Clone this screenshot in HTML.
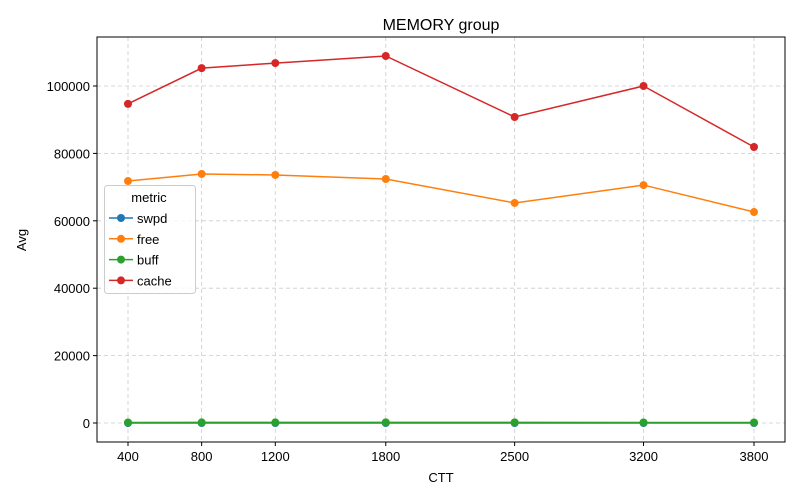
<!DOCTYPE html>
<html><head><meta charset="utf-8"><style>
html,body{margin:0;padding:0;background:#fff;}
svg{display:block;font-family:"Liberation Sans","DejaVu Sans",sans-serif;}
</style></head><body>
<svg id="chart" width="800" height="500" xmlns="http://www.w3.org/2000/svg">
<rect x="0" y="0" width="800" height="500" fill="#fff"/>
<text x="441" y="30" text-anchor="middle" font-size="16" fill="#000">MEMORY group</text>
<g id="grid"></g>
<g id="axes"></g>
<g id="series"></g>
<text x="441" y="482" text-anchor="middle" font-size="13">CTT</text>
<text x="26" y="240" text-anchor="middle" font-size="13" transform="rotate(-90 26 240)">Avg</text>
<g id="legend"></g>
</svg>
<script>
const categories = [400, 800, 1200, 1800, 2500, 3200, 3800];
const swpd = [0, 0, 0, 0, 0, 0, 0];
const free = [71800, 73900, 73600, 72400, 65300, 70600, 62600];
const buff = [150, 180, 170, 190, 200, 160, 150];
const cache = [94700, 105300, 106800, 108900, 90800, 100000, 81900];
const yTicks = [0, 20000, 40000, 60000, 80000, 100000];
const seriesNames = ["swpd", "free", "buff", "cache"];
const colors = ["#1f77b4", "#ff7f0e", "#2ca02c", "#d62728"];

const NS = "http://www.w3.org/2000/svg";
const L = 97, R = 785, T = 37, B = 442;
function xs(v){ return 128 + (v - 400) * (754 - 128) / 3400; }
function ys(v){ return 423 - v * 337 / 100000; }
function mk(tag, attrs, parent){ const e = document.createElementNS(NS, tag); for (const k in attrs) e.setAttribute(k, attrs[k]); parent.appendChild(e); return e; }

const grid = document.getElementById('grid'), axes = document.getElementById('axes');
categories.forEach(c => {
  const g = mk('line', {x1: xs(c), x2: xs(c), y1: T, y2: B, stroke: '#ccc', 'stroke-dasharray': '4,3', 'stroke-width': 0.8}, grid);
  
  
  const t = mk('line', {x1: xs(c), x2: xs(c), y1: B, y2: B + 4, stroke: '#000'}, axes);
  
  
  const lb = mk('text', {x: xs(c), y: B + 19, 'text-anchor': 'middle', 'font-size': 13}, axes);
  lb.textContent = c;
  
  
});
yTicks.forEach(v => {
  const g = mk('line', {x1: L, x2: R, y1: ys(v), y2: ys(v), stroke: '#ccc', 'stroke-dasharray': '4,3', 'stroke-width': 0.8}, grid);
  
  
  const t = mk('line', {x1: L - 4, x2: L, y1: ys(v), y2: ys(v), stroke: '#000'}, axes);
  
  
  const lb = mk('text', {x: L - 7, y: ys(v) + 5, 'text-anchor': 'end', 'font-size': 13}, axes);
  lb.textContent = v;
  
  
});
const frame = mk('rect', {x: L, y: T, width: R - L, height: B - T, fill: 'none', stroke: '#000', 'stroke-width': 1}, axes);



const seriesG = document.getElementById('series');
[swpd, free, buff, cache].forEach((vals, i) => {
  const g = mk('g', {}, seriesG);
  
  
  const pts = categories.map((c, j) => xs(c) + ',' + ys(vals[j])).join(' ');
  const pl = mk('polyline', {points: pts, fill: 'none', stroke: colors[i], 'stroke-width': 1.5}, g);
  
  
  categories.forEach((c, j) => {
    const p = mk('circle', {cx: xs(c), cy: ys(vals[j]), r: 4, fill: colors[i]}, g);
    
    
  });
});

const lg = document.getElementById('legend');
const box = mk('rect', {x: 104.5, y: 185.5, width: 91, height: 108, rx: 3, fill: '#fff', 'fill-opacity': 0.8, stroke: '#ccc'}, lg);


const lt = mk('text', {x: 149, y: 202, 'text-anchor': 'middle', 'font-size': 13}, lg);
lt.textContent = 'metric';


seriesNames.forEach((n, i) => {
  const y = 218 + i * 20.8;
  const e = mk('g', {}, lg);
  
  
  mk('line', {x1: 109, x2: 133, y1: y, y2: y, stroke: colors[i], 'stroke-width': 1.5}, e);
  mk('circle', {cx: 121, cy: y, r: 4, fill: colors[i]}, e);
  const t = mk('text', {x: 137, y: y + 5, 'font-size': 13}, e);
  t.textContent = n;
});
</script>
</body></html>
